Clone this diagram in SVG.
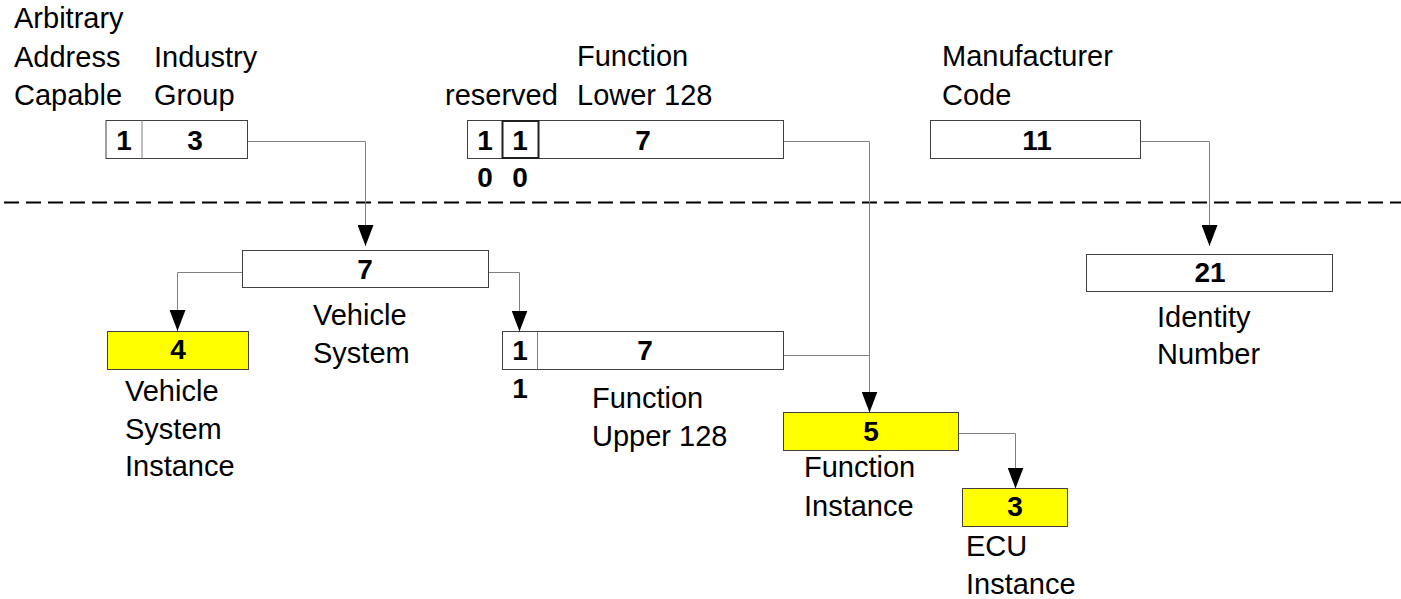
<svg xmlns="http://www.w3.org/2000/svg" width="1401" height="599" viewBox="0 0 1401 599">
  <style>
    .lbl { font-family: "Liberation Sans", Arial, sans-serif; font-size: 29px; fill: #000; }
    .num { font-family: "Liberation Sans", Arial, sans-serif; font-size: 28px; font-weight: bold; fill: #000; text-anchor: middle; }
    .box { fill: #fff; stroke: #404040; stroke-width: 1; }
    .hl { fill: #ffff00; stroke: #404040; stroke-width: 1; }
    .div { stroke: #808080; stroke-width: 1; fill: none; }
    .bit { fill: none; stroke: #202020; stroke-width: 2; }
    .wire { fill: none; stroke: #808080; stroke-width: 1; }
  </style>
  <defs>
    <marker id="arrow" markerWidth="21" markerHeight="16" refX="21" refY="8" orient="auto" markerUnits="userSpaceOnUse" viewBox="0 0 21 16">
      <path d="M0,0 L21,8 L0,16 Z" fill="#000"/>
    </marker>
  </defs>

  <!-- boundary between NAME fields and derived fields -->
  <line x1="4" y1="202.5" x2="1401" y2="202.5" stroke="#000" stroke-width="2" stroke-dasharray="15 7"/>

  <g id="connectors">
    <path class="wire" d="M247.5,141.5 H365.5 V246" marker-end="url(#arrow)"/>
    <path class="wire" d="M783.5,141.5 H869.5 V412.5" marker-end="url(#arrow)"/>
    <path class="wire" d="M783.5,355.5 H869.5"/>
    <path class="wire" d="M1140.5,141.5 H1209.5 V246" marker-end="url(#arrow)"/>
    <path class="wire" d="M242.5,272.5 H177.5 V331" marker-end="url(#arrow)"/>
    <path class="wire" d="M488.5,272.5 H519.5 V331.5" marker-end="url(#arrow)"/>
    <path class="wire" d="M958.5,433.5 H1015.5 V488.5" marker-end="url(#arrow)"/>
  </g>

  <g id="arbitrary-address">
    <text class="lbl" x="14" y="28">Arbitrary</text>
    <text class="lbl" x="14" y="67">Address</text>
    <text class="lbl" x="14" y="105">Capable</text>
  </g>

  <g id="industry-group">
    <text class="lbl" x="154" y="67">Industry</text>
    <text class="lbl" x="154" y="105">Group</text>
    <rect class="box" x="106" y="120.5" width="141.5" height="38"/>
    <line class="div" x1="142" y1="120.5" x2="142" y2="158.5"/>
    <text class="num" x="124" y="150">1</text>
    <text class="num" x="195" y="150">3</text>
  </g>

  <g id="function-lower">
    <text class="lbl" x="445" y="105">reserved</text>
    <text class="lbl" x="577" y="66">Function</text>
    <text class="lbl" x="577" y="105">Lower 128</text>
    <rect class="box" x="467.5" y="120.5" width="316" height="38"/>
    <rect class="bit" x="502.5" y="121" width="36" height="37"/>
    <text class="num" x="485" y="150">1</text>
    <text class="num" x="520" y="150">1</text>
    <text class="num" x="643" y="150">7</text>
    <text class="num" x="485" y="187">0</text>
    <text class="num" x="520" y="187">0</text>
  </g>

  <g id="manufacturer-code">
    <text class="lbl" x="942" y="66">Manufacturer</text>
    <text class="lbl" x="942" y="105">Code</text>
    <rect class="box" x="930.5" y="120.5" width="210" height="38"/>
    <text class="num" x="1037" y="149.5">11</text>
  </g>

  <g id="vehicle-system">
    <rect class="box" x="242.5" y="250.5" width="246" height="37"/>
    <text class="num" x="365" y="278.5">7</text>
    <text class="lbl" x="313" y="325">Vehicle</text>
    <text class="lbl" x="313" y="363">System</text>
  </g>

  <g id="vehicle-system-instance">
    <rect class="hl" x="107.5" y="331.5" width="141" height="38"/>
    <text class="num" x="178" y="359">4</text>
    <text class="lbl" x="125" y="401">Vehicle</text>
    <text class="lbl" x="125" y="439">System</text>
    <text class="lbl" x="125" y="476">Instance</text>
  </g>

  <g id="function-upper">
    <rect class="box" x="502.5" y="331.5" width="281" height="38"/>
    <line class="div" x1="537.5" y1="331.5" x2="537.5" y2="369.5"/>
    <text class="num" x="520" y="359.5">1</text>
    <text class="num" x="645" y="359.5">7</text>
    <text class="num" x="520" y="397.5">1</text>
    <text class="lbl" x="592" y="408">Function</text>
    <text class="lbl" x="592" y="446">Upper 128</text>
  </g>

  <g id="function-instance">
    <rect class="hl" x="783.5" y="412.5" width="175" height="38"/>
    <text class="num" x="871" y="441">5</text>
    <text class="lbl" x="804" y="477">Function</text>
    <text class="lbl" x="804" y="516">Instance</text>
  </g>

  <g id="ecu-instance">
    <rect class="hl" x="962.5" y="488.5" width="105" height="38"/>
    <text class="num" x="1015" y="516">3</text>
    <text class="lbl" x="966" y="556">ECU</text>
    <text class="lbl" x="966" y="594">Instance</text>
  </g>

  <g id="identity-number">
    <rect class="box" x="1086.5" y="254.5" width="246" height="37"/>
    <text class="num" x="1210" y="281.5">21</text>
    <text class="lbl" x="1157" y="327">Identity</text>
    <text class="lbl" x="1157" y="364">Number</text>
  </g>
</svg>
